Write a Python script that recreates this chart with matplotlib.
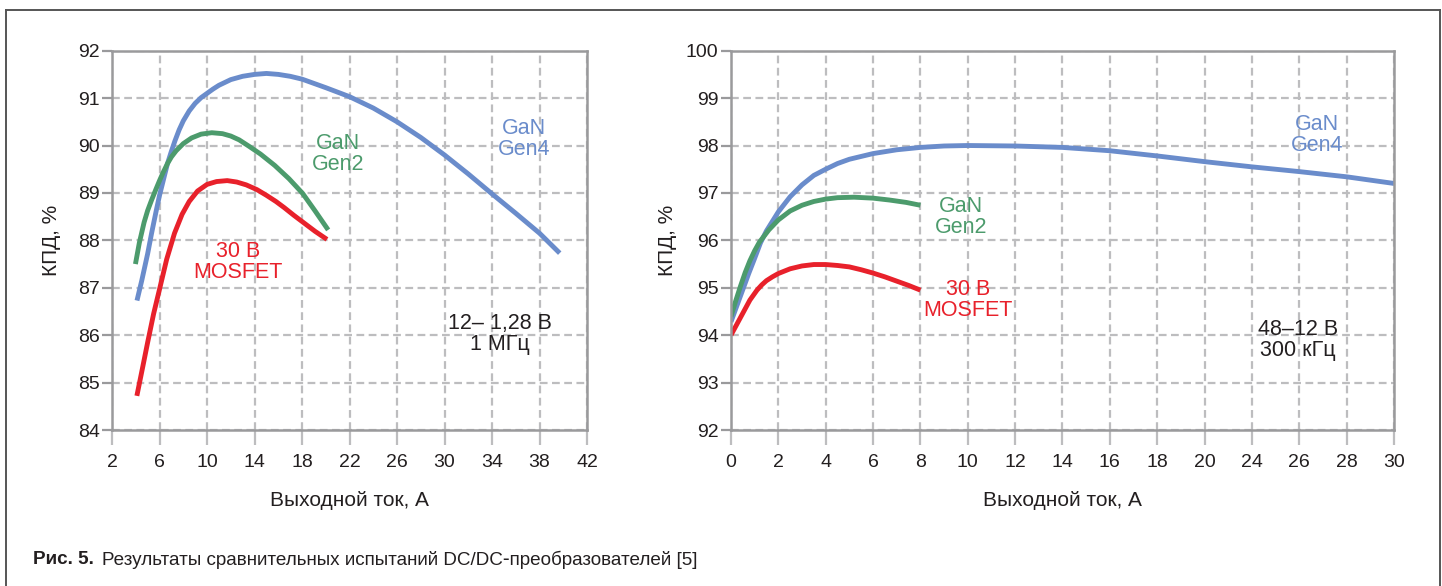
import matplotlib
matplotlib.use("Agg")
import matplotlib.pyplot as plt
from matplotlib.lines import Line2D

plt.rcParams["font.family"] = ["Liberation Sans", "DejaVu Sans"]

# --- colours ---------------------------------------------------------------
_BLUE, _GREEN, _RED = "#6a8ccb", "#4c9b6c", "#e8212b"
_SPINE, _GRID, _TEXT = "#9a9a9c", "#bdbdbf", "#231f20"

# --- left chart: 12 -> 1.28 V, 1 MHz ---------------------------------------
l_gen4_x = [4.1, 4.5, 5.0, 5.33, 5.7, 6.0, 6.3, 6.67, 7.0, 7.3, 7.65, 8.0, 8.5,
            9.0, 9.5, 10.0, 10.5, 11.0, 12.0, 13.0, 14.0, 15.0, 16.0, 17.0,
            18.0, 20.0, 22.0, 24.0, 26.0, 28.0, 30.0, 32.0, 34.0, 36.0, 38.0,
            39.7]
l_gen4_y = [86.73, 87.15, 87.72, 88.15, 88.6, 88.95, 89.25, 89.62, 89.88, 90.1,
            90.33, 90.52, 90.73, 90.89, 91.01, 91.1, 91.19, 91.27, 91.39, 91.46,
            91.5, 91.52, 91.5, 91.46, 91.4, 91.22, 91.03, 90.79, 90.5, 90.17,
            89.8, 89.4, 88.98, 88.57, 88.15, 87.73]
l_gen2_x = [3.97, 4.3, 4.7, 5.0, 5.33, 5.7, 6.0, 6.3, 6.67, 7.0, 7.4, 8.0, 8.7,
            9.5, 10.4, 11.3, 12.0, 12.7, 13.5, 14.5, 15.7, 16.9, 18.05, 19.1,
            20.2]
l_gen2_y = [87.5, 87.95, 88.38, 88.63, 88.85, 89.08, 89.26, 89.43, 89.62, 89.76,
            89.89, 90.04, 90.16, 90.24, 90.27, 90.25, 90.2, 90.12, 89.99, 89.82,
            89.58, 89.3, 88.99, 88.62, 88.22]
l_mos_x = [4.09, 4.6, 5.0, 5.5, 6.0, 6.6, 7.26, 7.9, 8.5, 9.2, 10.0, 10.8, 11.7,
           12.5, 13.3, 14.2, 15.0, 15.8, 16.5, 17.3, 18.2, 19.1, 20.1]
l_mos_y = [84.72, 85.35, 85.85, 86.45, 86.97, 87.6, 88.15, 88.55, 88.82, 89.04,
           89.18, 89.24, 89.26, 89.23, 89.17, 89.07, 88.95, 88.82, 88.69, 88.53,
           88.36, 88.19, 88.02]
l_xticks = [2, 6, 10, 14, 18, 22, 26, 30, 34, 38, 42]
l_yticks = [84, 85, 86, 87, 88, 89, 90, 91, 92]

# --- right chart: 48 -> 12 V, 300 kHz --------------------------------------
# x is tick position (0..28); the printed labels skip "22", as in the original
r_gen4_x = [0.0, 0.25, 0.5, 0.75, 1.0, 1.25, 1.5, 2.0, 2.5, 3.0, 3.5, 4.0, 4.5,
            5.0, 6.0, 7.0, 8.0, 9.0, 10.0, 12.0, 14.0, 16.0, 18.0, 20.0, 22.0,
            24.0, 26.0, 28.0]
r_gen4_y = [94.28, 94.62, 94.96, 95.3, 95.62, 95.95, 96.2, 96.6, 96.92, 97.17,
            97.37, 97.5, 97.62, 97.71, 97.83, 97.91, 97.96, 97.99, 98.0, 97.99,
            97.96, 97.89, 97.78, 97.66, 97.55, 97.45, 97.34, 97.2]
r_gen2_x = [0.0, 0.2, 0.4, 0.6, 0.8, 1.0, 1.2, 1.6, 2.0, 2.5, 3.0, 3.5, 4.0, 4.5,
            5.2, 6.0, 6.7, 7.4, 8.0]
r_gen2_y = [94.39, 94.72, 95.03, 95.32, 95.57, 95.78, 95.96, 96.22, 96.43, 96.62,
            96.74, 96.82, 96.87, 96.9, 96.91, 96.89, 96.85, 96.8, 96.74]
r_mos_x = [0.0, 0.4, 0.8, 1.1, 1.3, 1.5, 1.75, 2.0, 2.5, 3.0, 3.5, 4.0, 4.5, 5.0,
           5.5, 6.0, 6.5, 7.0, 7.5, 8.0]
r_mos_y = [94.0, 94.37, 94.74, 94.95, 95.06, 95.15, 95.23, 95.3, 95.4, 95.46,
           95.49, 95.49, 95.47, 95.44, 95.38, 95.31, 95.23, 95.14, 95.05, 94.95]
r_xticks = list(range(0, 30, 2))
r_xlabels = ["0", "2", "4", "6", "8", "10", "12", "14", "16", "18", "20",
             "24", "26", "28", "30"]
r_yticks = [92, 93, 94, 95, 96, 97, 98, 99, 100]

XLABEL = "Выходной ток, А"
YLABEL = "КПД, %"
CAPTION_BOLD = "Рис. 5."
CAPTION = "Результаты сравнительных испытаний DC/DC‑преобразователей [5]"


def _style(ax):
    for s in ax.spines.values():
        s.set_color(_SPINE)
        s.set_linewidth(1.8)
    ax.tick_params(axis="x", length=11, width=1.6, color=_GRID, pad=6,
                   labelsize=14, labelcolor=_TEXT)
    ax.tick_params(axis="y", length=7, width=1.6, color=_SPINE, pad=2,
                   labelsize=14, labelcolor=_TEXT)
    ax.grid(True, color=_GRID, linewidth=1.6, linestyle=(0, (3.5, 2)))
    ax.set_axisbelow(True)
    ax.set_xlabel(XLABEL, fontsize=15, color=_TEXT, labelpad=15)
    ax.set_ylabel(YLABEL, fontsize=15, color=_TEXT)


def _note(ax, x, y, text, color):
    ax.text(x, y, text, color=color, fontsize=15.5, ha="center", va="center",
            linespacing=1.0)


fig = plt.figure(figsize=(14.42, 5.86), dpi=100)

# outer frame
for xs, ys in [((0.004, 0.004), (-0.1, 0.983)), ((0.004, 0.9985), (0.983, 0.983)),
               ((0.9985, 0.9985), (0.983, -0.1))]:
    fig.add_artist(Line2D(xs, ys, color="#555555", linewidth=1.4,
                          transform=fig.transFigure))

lw = 3.5
ax1 = fig.add_axes([0.0777, 0.2662, 0.3294, 0.6473])
ax1.plot(l_gen4_x, l_gen4_y, color=_BLUE, linewidth=lw, solid_capstyle="butt")
ax1.plot(l_gen2_x, l_gen2_y, color=_GREEN, linewidth=lw, solid_capstyle="butt")
ax1.plot(l_mos_x, l_mos_y, color=_RED, linewidth=lw, solid_capstyle="butt")
ax1.set_xlim(2, 42)
ax1.set_ylim(84, 92)
ax1.set_xticks(l_xticks)
ax1.set_yticks(l_yticks)
_style(ax1)
ax1.yaxis.set_label_coords(-0.107, 0.5)
_note(ax1, 21.0, 89.82, "GaN\nGen2", _GREEN)
_note(ax1, 36.7, 90.14, "GaN\nGen4", _BLUE)
_note(ax1, 12.6, 87.54, "30 В\nMOSFET", _RED)
_note(ax1, 34.7, 86.02, "12– 1,28 В\n1 МГц", _TEXT)

ax2 = fig.add_axes([0.5069, 0.2662, 0.4598, 0.6473])
ax2.plot(r_gen4_x, r_gen4_y, color=_BLUE, linewidth=lw, solid_capstyle="butt")
ax2.plot(r_gen2_x, r_gen2_y, color=_GREEN, linewidth=lw, solid_capstyle="butt")
ax2.plot(r_mos_x, r_mos_y, color=_RED, linewidth=lw, solid_capstyle="butt")
ax2.set_xlim(0, 28)
ax2.set_ylim(92, 100)
ax2.set_xticks(r_xticks)
ax2.set_xticklabels(r_xlabels)
ax2.set_yticks(r_yticks)
_style(ax2)
ax2.yaxis.set_label_coords(-0.082, 0.5)
_note(ax2, 24.75, 98.22, "GaN\nGen4", _BLUE)
_note(ax2, 9.71, 96.50, "GaN\nGen2", _GREEN)
_note(ax2, 10.0, 94.74, "30 В\nMOSFET", _RED)
_note(ax2, 23.95, 93.9, "48–12 В\n300 кГц", _TEXT)

t = fig.text(33 / 1442, 1 - 560 / 586, CAPTION_BOLD, fontsize=13.6,
             fontweight="bold", color=_TEXT, va="center")
fig.canvas.draw()
bb = t.get_window_extent()
fig.text((bb.x1 + 8) / 1442, 1 - 560 / 586, CAPTION, fontsize=13.6,
         color=_TEXT, va="center")

fig.savefig("out.png", dpi=100, facecolor="white")
